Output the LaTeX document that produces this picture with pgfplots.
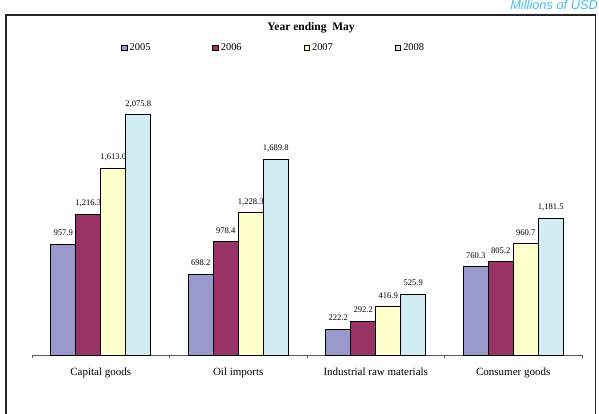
\documentclass[border=0pt]{standalone}
\usepackage{fontspec}
\setmainfont{Liberation Serif}
\newfontfamily\sansfam{Liberation Sans}
\usepackage{pgfplots}
\pgfplotsset{compat=1.18}

\definecolor{c05}{RGB}{153,153,204}
\definecolor{c06}{RGB}{153,51,102}
\definecolor{c07}{RGB}{255,255,204}
\definecolor{c08}{RGB}{210,236,244}
\definecolor{usdblue}{RGB}{64,190,240}

\begin{document}
\begin{tikzpicture}[x=1pt,y=1pt]
\path[use as bounding box] (0,0) rectangle (599,414);
\begin{scope}
  \clip (0,0) rectangle (599,414);
  \draw[line width=1.3pt, black!85] (6,-10) rectangle (595.5,399);
\end{scope}
\node[anchor=base east, inner sep=0pt, text=usdblue,
      font=\sansfam\itshape\fontsize{12.8}{15}\selectfont] at (598,404) {Millions of USD};
\node[font=\bfseries\fontsize{11.5}{13}\selectfont] at (311,386) {Year ending\ \ May};

\begin{axis}[
  at={(32pt,59pt)}, anchor=south west,
  scale only axis, width=550pt, height=254.8pt,
  xmin=-0.5, xmax=3.5, ymin=0, ymax=2200,
  axis x line*=bottom, axis y line=none, ytick=\empty,
  x axis line style={black!65, line width=0.8pt},
  clip=false,
  ybar=0pt, bar width=25pt,
  xtick={0,1,2,3},
  xticklabels={Capital goods, Oil imports, Industrial raw materials, Consumer goods},
  major tick length=0pt,
  minor xtick={-0.5,0.5,1.5,2.5,3.5},
  minor tick length=3.5pt, xtick align=outside,
  every tick/.style={black!65, line width=0.8pt},
  xticklabel style={font=\fontsize{11}{13}\selectfont, yshift=-9pt},
  every axis plot/.append style={draw=black, line width=0.9pt},
  nodes near coords={\pgfmathprintnumber[fixed, fixed zerofill, precision=1, 1000 sep={,}, assume math mode=true]{\pgfplotspointmeta}},
  every node near coord/.append style={font=\fontsize{8.6}{10}\selectfont, anchor=base, yshift=8.5pt, text=black},
  legend columns=4,
  legend style={draw=none, fill=none, at={(axis description cs:0.1565,1.2049)}, anchor=west,
    font=\fontsize{10.4}{12}\selectfont,
    /tikz/every even column/.append style={column sep=60pt}},
  legend image code/.code={\draw[#1, draw=black, line width=0.8pt] (0pt,-2.8pt) rectangle (5.6pt,2.8pt);},
]
\addplot[fill=c05] coordinates {(0,957.9) (1,698.2) (2,222.2) (3,760.3)};
\addplot[fill=c06] coordinates {(0,1216.3) (1,978.4) (2,292.2) (3,805.2)};
\addplot[fill=c07] coordinates {(0,1613.0) (1,1228.3) (2,416.9) (3,960.7)};
\addplot[fill=c08] coordinates {(0,2075.8) (1,1689.8) (2,525.9) (3,1181.5)};
\legend{2005,2006,2007,2008}
\end{axis}
\end{tikzpicture}
\end{document}
